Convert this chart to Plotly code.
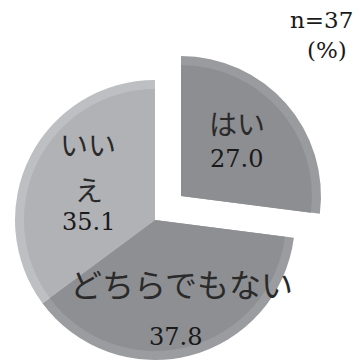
import plotly.graph_objects as go

labels = ["はい", "どちらでもない", "いいえ"]
values = [27.0, 37.8, 35.1]
colors = ["#8d8e92", "#8e8f93", "#b1b2b6"]
rim_colors = ["#9a9b9f", "#9b9ca0", "#bebfc3"]
n_total = 37

W, H = 360, 362
CLEAR = "rgba(0,0,0,0)"

def dom(cx, cy, r):
    return dict(x=[(cx - r) / W, (cx + r) / W],
                y=[(H - cy - r) / H, (H - cy + r) / H])

fig = go.Figure()

def add_pie(cols, cx, cy, r):
    fig.add_trace(go.Pie(labels=labels, values=values, sort=False, direction="clockwise",
                         rotation=0, textinfo="none", hoverinfo="skip",
                         marker=dict(colors=cols, line=dict(color=CLEAR, width=0)),
                         domain=dom(cx, cy, r), showlegend=False))

# main pie (はい hidden): rim then face
add_pie([CLEAR] + rim_colors[1:], 155, 220, 140)
add_pie([CLEAR] + colors[1:], 155, 220, 131)
# pulled-out はい slice: rim then face
add_pie([rim_colors[0], CLEAR, CLEAR], 181, 196, 140)
add_pie([colors[0], CLEAR, CLEAR], 181, 196, 131)

JP = "Noto Sans CJK JP, sans-serif"
NUM = "DejaVu Serif, serif"
def ann(text, x, y, size=26, xanchor="center", family=JP, color="#1a1a1a"):
    fig.add_annotation(text=text, x=x / W, y=1 - y / H, xref="paper", yref="paper",
                       showarrow=False, xanchor=xanchor, yanchor="middle",
                       font=dict(family=family, size=size, color=color))

JPC = "#2a2a2a"
ann(labels[0], 237, 123, size=28, color=JPC)
ann(f"{values[0]:.1f}", 236, 159, size=24, family=NUM)
ann(labels[2][:2], 88, 144, size=28, color=JPC)
ann(labels[2][2:], 89, 189, size=28, color=JPC)
ann(f"{values[2]:.1f}", 88, 222, size=24, family=NUM)
ann(labels[1], 181, 283, size=32, color=JPC)
ann(f"{values[1]:.1f}", 175, 337, size=24, family=NUM)
ann(f"n={n_total}", 355, 20, size=23, xanchor="right", family=NUM)
ann("(%)", 349, 50, size=23, xanchor="right", family=NUM)

fig.update_layout(width=W, height=H, margin=dict(l=0, r=0, t=0, b=0),
                  paper_bgcolor="white", plot_bgcolor="white")
fig.write_html("out.html")
